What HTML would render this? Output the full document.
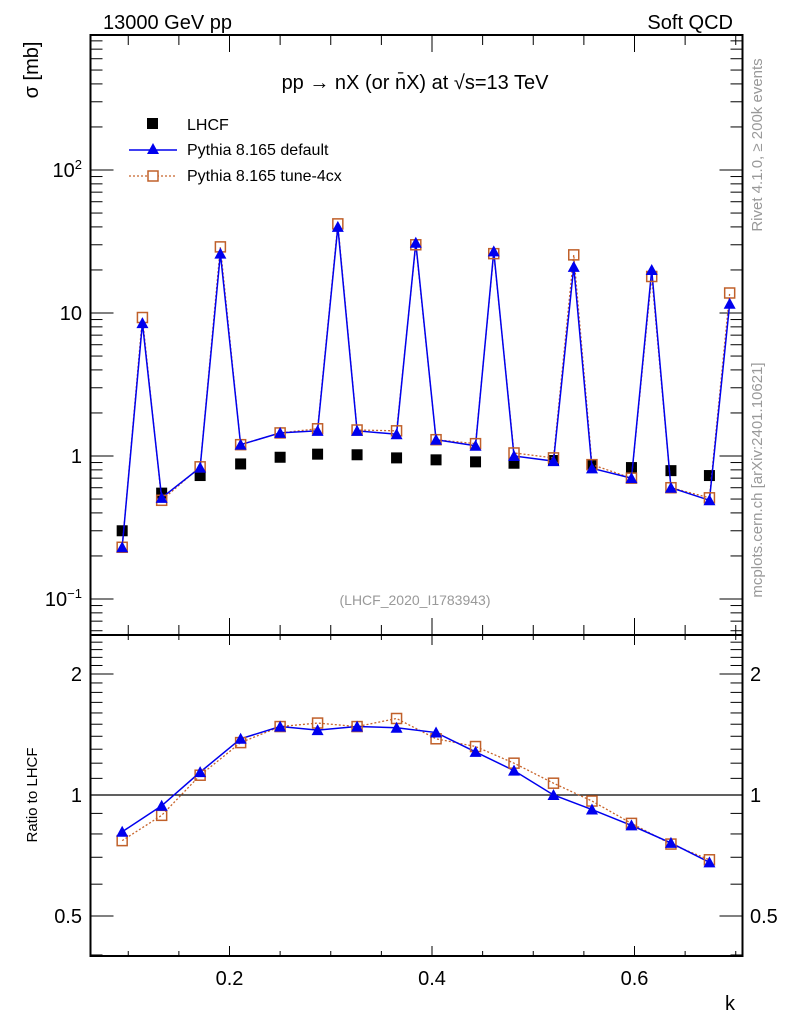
<!DOCTYPE html>
<html><head><meta charset="utf-8">
<style>
html,body{margin:0;padding:0;background:#fff;}
svg{display:block;font-family:"Liberation Sans",sans-serif;}
</style></head>
<body>
<svg id="chart" width="786" height="1024" viewBox="0 0 786 1024" xmlns="http://www.w3.org/2000/svg">
<g id="axes"></g>
<g id="marks"></g>
<text x="103" y="29" font-size="20">13000 GeV pp</text>
<text x="733" y="29" font-size="20" text-anchor="end">Soft QCD</text>
<text x="415" y="89" font-size="20" text-anchor="middle">pp → nX (or n̄X) at √s=13 TeV</text>
<text x="415" y="605" font-size="14" fill="#999" text-anchor="middle">(LHCF_2020_I1783943)</text>
<text transform="translate(38,70) rotate(-90)" font-size="20" text-anchor="middle">σ [mb]</text>
<text transform="translate(37,795) rotate(-90)" font-size="15" text-anchor="middle">Ratio to LHCF</text>
<text x="735" y="1010" font-size="20" text-anchor="end">k</text>
<text transform="translate(762,145) rotate(-90)" font-size="15" fill="#999" text-anchor="middle">Rivet 4.1.0, ≥ 200k events</text>
<text transform="translate(762,480) rotate(-90)" font-size="15" fill="#999" text-anchor="middle">mcplots.cern.ch [arXiv:2401.10621]</text>
<g>
  <rect x="147" y="118" width="11" height="11" fill="#000"/>
  <text x="187" y="130" font-size="16">LHCF</text>
  <line x1="129" y1="150" x2="177" y2="150" stroke="#0000ee" stroke-width="1.5"/>
  <polygon points="153,143 147,154 159,154" fill="#0000ee"/>
  <text x="187" y="155" font-size="16">Pythia 8.165 default</text>
  <line x1="129" y1="176" x2="177" y2="176" stroke="#c8642a" stroke-width="1.3" stroke-dasharray="2,2"/>
  <rect x="148" y="171" width="10" height="10" fill="#fff" stroke="#c0602a" stroke-width="1.5"/>
  <text x="187" y="181" font-size="16">Pythia 8.165 tune-4cx</text>
</g>
</svg>
<script>
// ---- data ----
const kData = [0.094,0.133,0.171,0.211,0.250,0.287,0.326,0.365,0.404,0.443,0.481,0.520,0.558,0.597,0.636,0.674];
const lhcfVals = [0.30,0.55,0.73,0.88,0.98,1.03,1.02,0.97,0.94,0.91,0.89,0.93,0.87,0.83,0.79,0.73];
const kMC = [0.094,0.114,0.133,0.171,0.191,0.211,0.250,0.287,0.307,0.326,0.365,0.384,0.404,0.443,0.461,0.481,0.520,0.540,0.558,0.597,0.617,0.636,0.674,0.694];
const defaultVals = [0.23,8.5,0.51,0.83,26,1.2,1.45,1.5,40,1.5,1.42,31,1.3,1.18,27,1.0,0.92,21,0.82,0.70,20,0.60,0.49,11.6];
const tuneVals = [0.23,9.3,0.49,0.84,29,1.2,1.45,1.55,42,1.52,1.5,30,1.3,1.22,26,1.05,0.97,25.5,0.87,0.70,18,0.60,0.51,13.8];
const ratioDefault = [0.81,0.94,1.14,1.38,1.48,1.45,1.48,1.47,1.43,1.28,1.15,1.0,0.92,0.84,0.76,0.68];
const ratioTune = [0.77,0.89,1.12,1.35,1.48,1.51,1.48,1.55,1.38,1.32,1.2,1.07,0.966,0.85,0.755,0.69];
const xMajor = [0.2,0.4,0.6];
const xMajorLabels = ["0.2","0.4","0.6"];
const yDecades = [-1,0,1,2];
const yDecadeLabels = ["10<tspan dy='-8' font-size='13'>−1</tspan>","1","10","10<tspan dy='-8' font-size='13'>2</tspan>"];
const rMajor = [0.5,1,2];
const rMajorLabels = ["0.5","1","2"];

// ---- geometry ----
const L=90.5,R=742.5,T=35,MID=635,B=956;
const X = k => 229.5 + (k-0.2)*1012.5;
const Y = v => 456 - 143*Math.log10(v);
const YR = r => 795 - 121*Math.log2(r);
const NS="http://www.w3.org/2000/svg";
const axes=document.getElementById('axes'), marks=document.getElementById('marks');
function mk(tag,attrs,parent){const e=document.createElementNS(NS,tag);for(const a in attrs)e.setAttribute(a,attrs[a]);parent.appendChild(e);return e;}
function ln(x1,y1,x2,y2,w){return mk('line',{x1:x1,y1:y1,x2:x2,y2:y2,stroke:'#000','stroke-width':w||1},axes);}

const f1=mk('rect',{x:L,y:T,width:R-L,height:MID-T,fill:'none',stroke:'#000','stroke-width':2},axes);


const f2=mk('rect',{x:L,y:MID,width:R-L,height:B-MID,fill:'none',stroke:'#000','stroke-width':2},axes);



for(let i=2;i<=14;i++){const k=i*0.05;const x=X(k);if(x<L||x>R)continue;
  const maj=(i%4===0);
  const h=maj?17:10, h2=maj?10:5;
  ln(x,T,x,T+h);ln(x,MID,x,MID-h);ln(x,MID,x,MID+h2);ln(x,B,x,B-h2);}
xMajor.forEach((k,i)=>{const t=mk('text',{x:X(k),y:B+29,'font-size':20,'text-anchor':'middle'},axes);t.textContent=xMajorLabels[i];
  
  });

for(let d=-2;d<=2;d++){for(let m=1;m<=9;m++){const v=m*Math.pow(10,d);const y=Y(v);if(y<T||y>MID)continue;
  const h=m===1?23:12;ln(L,y,L+h,y);ln(R,y,R-h,y);}}
yDecades.forEach((d,i)=>{const t=mk('text',{x:82,y:Y(Math.pow(10,d))+7,'font-size':20,'text-anchor':'end'},axes);t.innerHTML=yDecadeLabels[i];
  
  });

for(let j=4;j<=25;j++){const rr=j/10;const y=YR(rr);if(y<MID||y>B)continue;
  const maj=rMajor.includes(rr);const h=maj?23:12;ln(L,y,L+h,y);ln(R,y,R-h,y);}
rMajor.forEach((r,i)=>{const y=YR(r)+7;
  const t=mk('text',{x:82,y:y,'font-size':20,'text-anchor':'end'},axes);t.textContent=rMajorLabels[i];
  
  
  const t2=mk('text',{x:750,y:y,'font-size':20},axes);t2.textContent=rMajorLabels[i];
  
  });
const one=ln(L,YR(1),R,YR(1),1.3);



function poly(xs,vals,fy,color,dash,name){const p=mk('polyline',{points:xs.map((k,i)=>X(k)+','+fy(vals[i])).join(' '),fill:'none',stroke:color,'stroke-width':dash?1.3:1.5},marks);
  if(dash)p.setAttribute('stroke-dasharray','2,2');
  
  }
function tri(x,y,name){const p=mk('polygon',{points:(x)+','+(y-6)+' '+(x-6)+','+(y+5)+' '+(x+6)+','+(y+5),fill:'#0000ee'},marks);
  
  }
function sq(x,y,name){const r=mk('rect',{x:x-5,y:y-5,width:10,height:10,fill:'none',stroke:'#c0602a','stroke-width':1.5},marks);
  
  }

lhcfVals.forEach((v,i)=>{const r=mk('rect',{x:X(kData[i])-5.5,y:Y(v)-5.5,width:11,height:11,fill:'#000'},marks);
  
  });
poly(kMC,tuneVals,Y,'#c8642a',true,'tune-line');
poly(kMC,defaultVals,Y,'#0000ee',false,'default-line');
tuneVals.forEach((v,i)=>sq(X(kMC[i]),Y(v),'tune-point'));
defaultVals.forEach((v,i)=>tri(X(kMC[i]),Y(v),'default-point'));

poly(kData,ratioTune,YR,'#c8642a',true,'tune-ratio-line');
poly(kData,ratioDefault,YR,'#0000ee',false,'default-ratio-line');
ratioTune.forEach((v,i)=>sq(X(kData[i]),YR(v),'tune-ratio-point'));
ratioDefault.forEach((v,i)=>tri(X(kData[i]),YR(v),'default-ratio-point'));
</script>
</body></html>
